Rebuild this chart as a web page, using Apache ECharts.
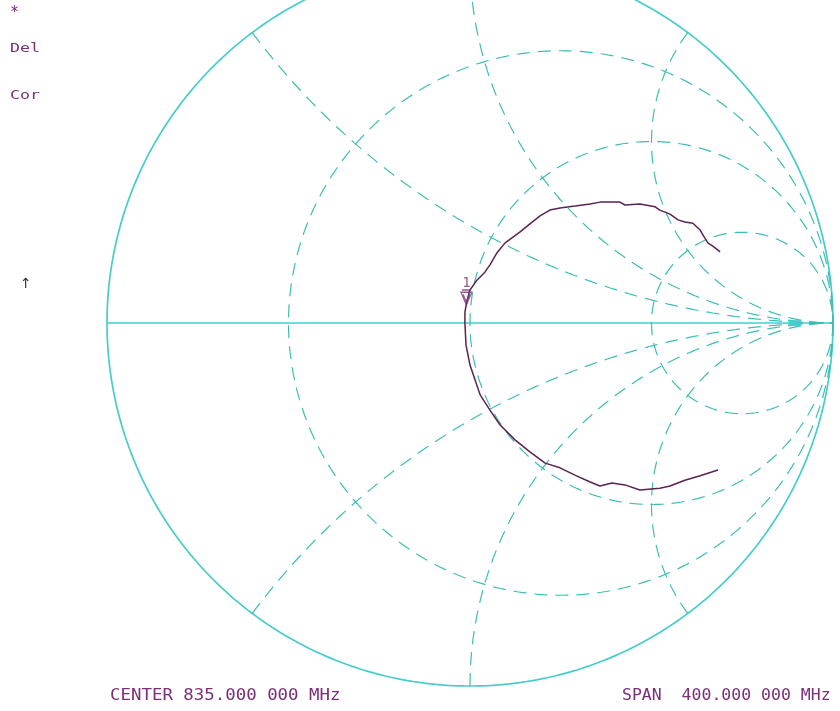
<!DOCTYPE html>
<html>
<head>
<meta charset="utf-8">
<style>
  html, body { margin: 0; padding: 0; background: #fff; }
  #chart { width: 840px; height: 711px; }
</style>
<script src="https://cdn.jsdelivr.net/npm/echarts@6/dist/echarts.min.js"></script>
</head>
<body>
<div id="chart"></div>
<script>
// measured trace, reflection coefficient (real / imag), top-right end -> bottom-right end
var traceRe = [0.689, 0.669, 0.656, 0.647, 0.634, 0.614, 0.592, 0.573, 0.551, 0.523, 0.510, 0.468, 0.427, 0.413,
  0.358, 0.331, 0.289, 0.248, 0.220, 0.193, 0.165, 0.138, 0.096, 0.074, 0.055, 0.041, 0.019, 0.000, -0.008, -0.014,
  -0.014, -0.011, 0.000, 0.014, 0.028, 0.055, 0.083, 0.124, 0.165, 0.207, 0.248, 0.289, 0.331, 0.358, 0.391, 0.427,
  0.468, 0.523, 0.551, 0.592, 0.634, 0.683]
var traceIm = [0.196, 0.212, 0.220, 0.234, 0.256, 0.275, 0.278, 0.284, 0.300, 0.311, 0.320, 0.328, 0.325, 0.333,
  0.333, 0.328, 0.322, 0.317, 0.311, 0.295, 0.273, 0.251, 0.220, 0.193, 0.160, 0.140, 0.118, 0.091, 0.063, 0.030,
  0.000, -0.061, -0.116, -0.157, -0.198, -0.240, -0.281, -0.322, -0.355, -0.386, -0.399, -0.419, -0.438, -0.449,
  -0.441, -0.446, -0.460, -0.455, -0.449, -0.433, -0.421, -0.405]

// marker 1 position on the trace
var marker1 = [-0.010, 0.048]

// graticule values
var resCircles = [1 / 3, 1, 3]
var reactArcs = [0.5, 1, 2]

var textColor = '#7a2f78'
var gridColor = '#46cccc'
var dashColor = '#3dbdb4'

// impedance -> reflection coefficient
function gamma(r, x) {
  var nr = r - 1, ni = x, dr = r + 1, di = x
  var d = dr * dr + di * di
  return [(nr * dr + ni * di) / d, (ni * dr - nr * di) / d]
}

function resCircle(r) {
  var pts = []
  for (var i = 0; i <= 400; i++) {
    var th = -Math.PI / 2 + Math.PI * i / 400
    if (i === 0 || i === 400) { pts.push([1, 0]); continue }
    pts.push(gamma(r, Math.tan(th)))
  }
  return pts
}

function reactArc(x) {
  var pts = []
  for (var i = 0; i <= 300; i++) {
    var t = i / 300
    if (i === 300) { pts.push([1, 0]); continue }
    pts.push(gamma(t / (1 - t), x))
  }
  return pts
}

function gridSeries(data, dashed) {
  return {
    type: 'line',
    data: data,
    showSymbol: false,
    silent: true,
    animation: false,
    lineStyle: {
      color: dashed ? dashColor : gridColor,
      width: dashed ? 1.2 : 1.7,
      type: dashed ? [13, 8] : 'solid'
    },
    z: 1
  }
}

var series = []
// outer circle and real axis
series.push(gridSeries(resCircle(0), false))
series.push(gridSeries([[-1, 0], [1, 0]], false))
resCircles.forEach(function (r) { series.push(gridSeries(resCircle(r), true)) })
reactArcs.forEach(function (x) {
  series.push(gridSeries(reactArc(x), true))
  series.push(gridSeries(reactArc(-x), true))
})

// trace
series.push({
  type: 'line',
  data: traceRe.map(function (v, i) { return [v, traceIm[i]] }),
  showSymbol: false,
  animation: false,
  lineStyle: { color: '#5a2352', width: 1.5 },
  z: 5
})

// marker 1
series.push({
  type: 'scatter',
  data: [marker1],
  symbol: 'path://M0,0 L10,0 L5,12 Z M2,2 L5,9 L8,2 M1,-2 L9,-2',
  symbolSize: [11, 15],
  symbolOffset: [0, -8],
  itemStyle: { color: 'rgba(0,0,0,0)', borderColor: textColor, borderWidth: 1.3 },
  label: {
    show: true,
    formatter: '1',
    position: 'top',
    distance: -1,
    color: textColor,
    fontFamily: 'DejaVu Sans Mono',
    fontSize: 14
  },
  animation: false,
  z: 6
})

// reference position indicator at the right
series.push({
  type: 'scatter',
  data: [[0.895, 0]],
  symbol: 'rect',
  symbolSize: [13, 6],
  itemStyle: { color: gridColor },
  silent: true,
  animation: false,
  z: 2
})

var smallFont = '13px DejaVu Sans Mono'
var bigFont = '15px DejaVu Sans Mono'

var chart = echarts.init(document.getElementById('chart'))
chart.setOption({
  backgroundColor: '#ffffff',
  grid: { left: 0, right: 0, top: 0, bottom: 0 },
  xAxis: { type: 'value', min: -470 / 363, max: 370 / 363, show: false },
  yAxis: { type: 'value', min: -388 / 363, max: 323 / 363, show: false },
  graphic: [
    { type: 'text', x: 10, y: 6, style: { text: '*', fill: textColor, font: bigFont } },
    { type: 'text', x: 10, y: 42, scaleX: 1.28, style: { text: 'Del', fill: textColor, font: smallFont } },
    { type: 'text', x: 10, y: 89, scaleX: 1.28, style: { text: 'Cor', fill: textColor, font: smallFont } },
    { type: 'text', x: 20, y: 277, style: { text: '↑', fill: '#333', font: '14px DejaVu Sans' } },
    { type: 'text', x: 110, y: 689, scaleX: 1.16, style: { text: 'CENTER 835.000 000 MHz', fill: textColor, font: bigFont } },
    { type: 'text', x: 622, y: 689, scaleX: 1.1, style: { text: 'SPAN  400.000 000 MHz', fill: textColor, font: bigFont } }
  ],
  series: series
})
</script>
</body>
</html>
